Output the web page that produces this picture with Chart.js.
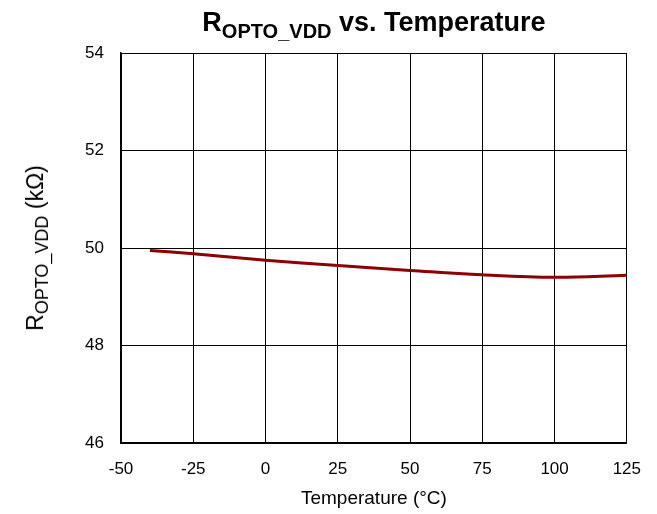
<!DOCTYPE html>
<html lang="en">
<head>
    <meta charset="UTF-8">
    <title>ROPTO_VDD vs. Temperature</title>
    <script src="https://cdn.jsdelivr.net/npm/chart.js@4.4.1/dist/chart.umd.min.js"></script>
    <style>
        body { margin: 0; background: #fff; font-family: Arial, "Liberation Sans", sans-serif; }
        .wrap { position: relative; width: 657px; height: 514px; }
        .title { position: absolute; left: 121px; width: 506px; top: 7px; text-align: center; font-size: 27px; line-height: 30px; font-weight: bold; color: #000; }
        .title sub { font-size: 20px; vertical-align: -7px; line-height: 0; }
        .ylabel { position: absolute; left: 35px; top: 248px; transform: translate(-50%, -50%) rotate(-90deg); white-space: nowrap; font-size: 23px; line-height: 26px; color: #000; }
        .ylabel sub { font-size: 18px; vertical-align: -5px; line-height: 0; }
    </style>
</head>
<body>
<div class="wrap">
    <canvas id="chart" width="657" height="514"></canvas>
    <div class="title">R<sub>OPTO_VDD</sub> vs. Temperature</div>
    <div class="ylabel">R<sub>OPTO_VDD</sub> (kΩ)</div>
</div>
<script>
    const temps = [-40, -25, 0, 25, 50, 75, 100, 125];
    const resistance = [49.95, 49.88, 49.75, 49.64, 49.54, 49.45, 49.40, 49.44];
    const xTicks = [-50, -25, 0, 25, 50, 75, 100, 125];
    const yTicks = [46, 48, 50, 52, 54];

    new Chart(document.getElementById('chart'), {
        type: 'line',
        data: {
            datasets: [{
                data: temps.map((t, i) => ({ x: t, y: resistance[i] })),
                borderColor: '#8b0000',
                borderWidth: 3,
                pointRadius: 0,
                tension: 0.4,
                fill: false
            }]
        },
        options: {
            responsive: false,
            animation: false,
            layout: { padding: { left: 0, top: 53, right: 30, bottom: 0 } },
            plugins: { legend: { display: false }, tooltip: { enabled: false } },
            scales: {
                x: {
                    type: 'linear',
                    min: -50,
                    max: 125,
                    afterBuildTicks: s => { s.ticks = xTicks.map(v => ({ value: v })); },
                    afterFit: s => { s.height = 71; },
                    grid: { color: '#000', lineWidth: 1, drawTicks: false },
                    border: { color: '#000', width: 1.5 },
                    ticks: { color: '#000', font: { family: 'Arial', size: 17 }, padding: 16, maxRotation: 0 },
                    title: { display: true, text: 'Temperature (°C)', color: '#000', font: { family: 'Arial', size: 19 }, padding: { top: 2 } }
                },
                y: {
                    min: 46,
                    max: 54,
                    afterBuildTicks: s => { s.ticks = yTicks.map(v => ({ value: v })); },
                    afterFit: s => { s.width = 121; },
                    grid: { color: '#000', lineWidth: 1, drawTicks: false },
                    border: { color: '#000', width: 1.5 },
                    ticks: { color: '#000', font: { family: 'Arial', size: 17 }, padding: 17 }
                }
            }
        }
    });
</script>
</body>
</html>
